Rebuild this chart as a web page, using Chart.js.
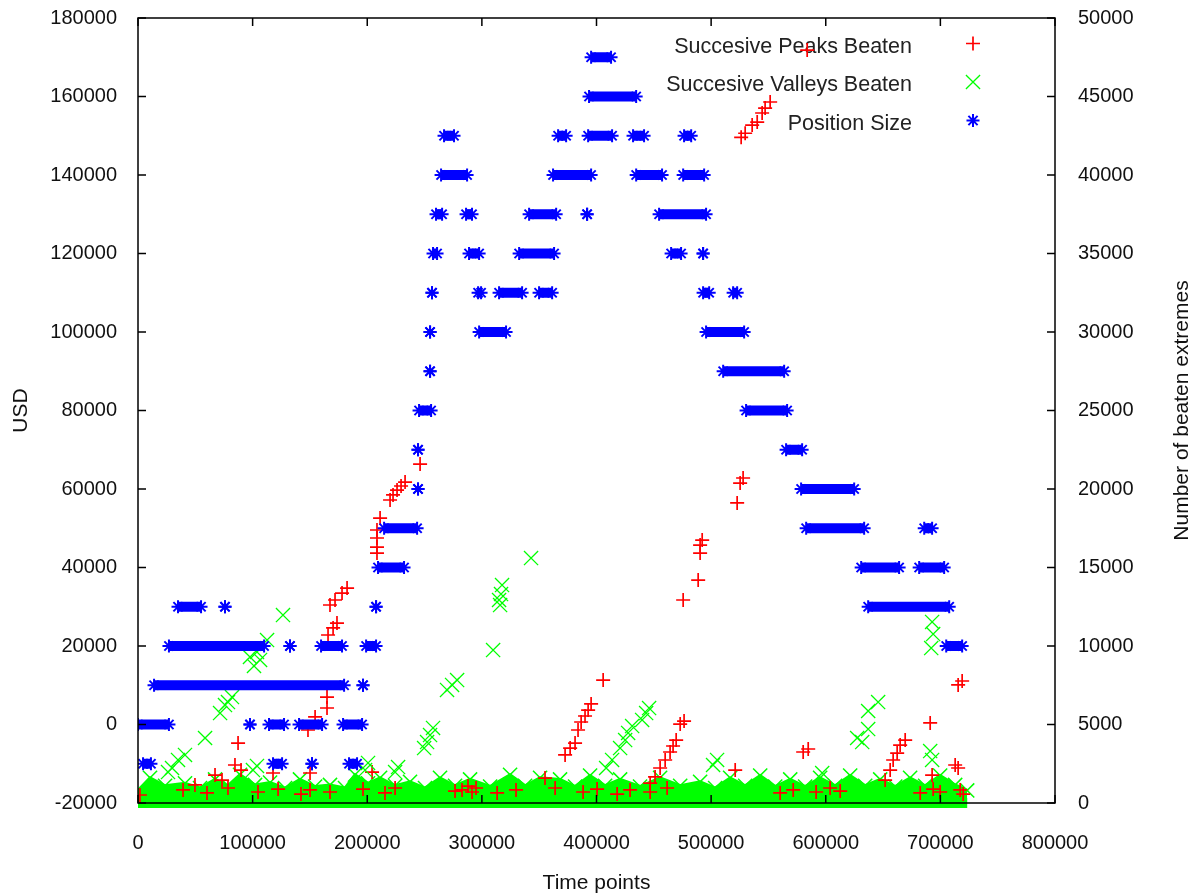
<!DOCTYPE html>
<html>
<head>
<meta charset="utf-8">
<script src="https://cdn.jsdelivr.net/npm/chart.js@4.4.0/dist/chart.umd.min.js"></script>
<style>
  html, body { margin: 0; padding: 0; background: #fff; }
  #wrap { width: 1201px; height: 896px; }
</style>
</head>
<body>
<div id="wrap"><canvas id="grafico" width="1201" height="896"></canvas></div>
<script>
// ------------------------------------------------------------
// Position size (USD, left axis) — runs of identical values
// ------------------------------------------------------------
const positionStart = [
  4400, 117800, 151800, 184100,
  0, 97700, 114300, 140500, 178900,
  14000, 196300,
  27000, 132600, 159700, 199000, 705100,
  34900, 75900, 207700, 637000,
  209400, 630900, 681500,
  214700, 582900, 685900,
  244300, 578500,
  244300, 565400,
  245200, 530500,
  254800, 510500,
  254800, 297600, 495600,
  256500, 296700, 315000, 349900, 493000, 519200,
  257400, 288800, 332500, 465100, 493000,
  260000, 286200, 341200, 391800, 454600,
  264400, 362100, 434600, 475600,
  267000, 366500, 392700, 431900, 476400,
  393500,
  395300,
];
const positionEnd = [
  11300, 125700, 151800, 191100,
  27000, 97700, 127400, 160600, 195500,
  179800, 196300,
  110000, 132600, 178000, 207700, 719000,
  55000, 75900, 207700, 707700,
  232100, 664000, 703300,
  243500, 633500, 692800,
  244300, 624800,
  244300, 579400,
  255700, 566300,
  254800, 563700,
  254800, 321100, 528800,
  256500, 299300, 335100, 361300, 498300, 522700,
  260900, 297600, 363000, 473800, 493000,
  265300, 291400, 364800, 391800, 495600,
  287100, 395300, 457200, 493900,
  275700, 373500, 413600, 441500, 482600,
  434600,
  412700,
];
const positionUsd = [
  -10000, -10000, -10000, -10000,
  0, 0, 0, 0, 0,
  10000, 10000,
  20000, 20000, 20000, 20000, 20000,
  30000, 30000, 30000, 30000,
  40000, 40000, 40000,
  50000, 50000, 50000,
  60000, 60000,
  70000, 70000,
  80000, 80000,
  90000, 90000,
  100000, 100000, 100000,
  110000, 110000, 110000, 110000, 110000, 110000,
  120000, 120000, 120000, 120000, 120000,
  130000, 130000, 130000, 130000, 130000,
  140000, 140000, 140000, 140000,
  150000, 150000, 150000, 150000, 150000,
  160000,
  170000,
];

// ------------------------------------------------------------
// Successive peaks beaten (right axis)
// ------------------------------------------------------------
const peaksT = [
  87300, 84600, 89900, 148300, 154500, 164900, 164900, 165800, 170200, 173600,
  167500, 171900, 178000, 182400, 208500, 208500, 208500, 208500, 211200, 219900,
  222500, 226000, 229500, 233000, 246100, 204200, 372600, 377000, 381300, 383900,
  386600, 390000, 392700, 395300, 405800, 446800, 451100, 455500, 459900, 464200,
  466800, 469500, 473000, 476400, 475600, 488700, 490400, 490400, 492200, 522700,
  525300, 527900, 526200, 529700, 535800, 540200, 544500, 547100, 551500, 583800,
  580300, 584700, 521000, 651800, 656200, 658800, 662300, 664900, 669300, 691100,
  692800, 715500, 719000, 712900, 715500, 355100, 67200, 73300, 49700, 150100,
  117800,
  1700, 39300, 60200, 78500, 104700, 122200, 142200, 150100, 167500, 196300,
  215500, 224300, 276600, 282700, 287900, 291400, 294900, 313300, 329800, 363900,
  388300, 400500, 418000, 429300, 446800, 461600, 560200, 571600, 591600, 603800,
  612600, 682400, 693700, 699800, 717300, 719900,
];
const peaksN = [
  3820, 2420, 2100, 4650, 5480, 6050, 6750, 10700, 11150, 11460,
  12610, 12930, 13370, 13690, 15920, 16300, 16880, 17390, 18150, 19300,
  19620, 19930, 20190, 20440, 21590, 1970, 3060, 3500, 3820, 4650,
  5160, 5540, 5920, 6310, 7830, 1270, 1660, 2230, 2740, 3250,
  3630, 4010, 5030, 5220, 12930, 14200, 15920, 16430, 16750, 19110,
  20380, 20700, 42400, 42660, 43180, 43370, 43950, 44260, 44650, 47960,
  3250, 3440, 2100, 1460, 2100, 2740, 3180, 3690, 4010, 5100,
  1780, 7520, 7770, 2420, 2230, 1590, 1780, 1460, 1150, 1910,
  1910,
  510, 830, 640, 955, 700, 890, 570, 830, 700, 890,
  640, 955, 760, 830, 1080, 700, 955, 640, 830, 955,
  700, 890, 570, 830, 700, 955, 640, 830, 700, 955,
  760, 640, 890, 700, 830, 570,
];

// ------------------------------------------------------------
// Successive valleys beaten (right axis)
// ------------------------------------------------------------
const valleysT = [
  126500, 112600, 103800, 106500, 101200, 97700, 82000, 78500, 75900, 71600,
  58500, 41000, 34900, 29700, 26200, 100300, 103800, 200700, 198100, 224300,
  226900, 249600, 252200, 254800, 257400, 269600, 274000, 278400, 309800, 315000,
  316700, 317600, 315900, 342900, 408400, 413600, 420600, 425000, 427600, 431100,
  439800, 443300, 445900, 501700, 505200, 596900, 627400, 631800, 637000, 637000,
  645700, 691100, 692800, 692800, 693700, 692000,
];
const valleysN = [
  11970, 10380, 9620, 9110, 8730, 9300, 6750, 6430, 6240, 5730,
  4140, 3060, 2740, 2230, 1970, 2100, 2360, 2550, 2100, 1970,
  2290, 3500, 3880, 4330, 4780, 7200, 7520, 7830, 9740, 12930,
  13310, 13880, 12610, 15600, 2230, 2740, 3500, 4010, 4460, 4900,
  5290, 5730, 6050, 2420, 2740, 1910, 4140, 3880, 4710, 5860,
  6430, 3310, 2740, 11530, 10760, 9870,
];

// dense mass of valley points hugging the bottom of the plot
const valleyFloorT = [
  0, 10500, 23600, 41000, 54100, 67200, 78500, 89000, 102100, 115200,
  128300, 141300, 154500, 167500, 180600, 189300, 200700, 211200, 224300, 237300,
  250400, 263500, 276600, 289700, 307200, 324600, 337700, 350800, 368200, 381300,
  394400, 407500, 420600, 438000, 455500, 473000, 490400, 503500, 516600, 529700,
  542800, 555900, 569000, 582000, 595100, 608200, 621300, 634400, 647500, 660600,
  673600, 686700, 699800, 712900, 723400,
];
const valleyFloorN = [
  800, 1600, 1100, 1250, 950, 1500, 1100, 1800, 1150, 1300,
  950, 1500, 1050, 1150, 950, 1800, 1250, 1600, 1100, 1350,
  950, 1600, 1100, 1500, 1050, 1800, 1100, 1600, 1500, 1050,
  1750, 1100, 1500, 1050, 1600, 1100, 1350, 950, 1600, 1100,
  1750, 1050, 1500, 1050, 1600, 1100, 1750, 1100, 1500, 1050,
  1600, 1100, 1750, 1150, 800,
];

const TITLE_X = 'Time points';
const TITLE_Y = 'USD';
const TITLE_Y2 = 'Number of beaten extremes';

const FONTE = '"Liberation Sans", Arial, sans-serif';
const TEXTO = '#111';
const AZUL = '#0000ff';
const VERMELHO = '#ff0000';
const VERDE = '#00ff00';
const TICK = 8;

function pares(ts, vs) {
  return ts.map((t, i) => ({ x: t, y: vs[i] }));
}

function trechos(inicio, fim, valor) {
  const pts = [];
  inicio.forEach((s, i) => {
    pts.push({ x: s, y: valor[i] }, { x: fim[i], y: valor[i] }, { x: fim[i], y: null });
  });
  return pts;
}

// tamanho fixo das caixas dos eixos, sem folga extra dos rótulos
function fixarCaixa(largura, altura) {
  return (s) => {
    if (largura !== null) s.width = largura;
    if (altura !== null) s.height = altura;
    s.paddingTop = 0;
    s.paddingBottom = 0;
    s.paddingLeft = 0;
    s.paddingRight = 0;
  };
}

// moldura e marcas de escala para dentro, como no gnuplot
const molduraPlugin = {
  id: 'moldura',
  beforeDatasetsDraw(chart) {
    const { ctx } = chart;
    ctx.save();
    ctx.font = `21.5px ${FONTE}`;
    ctx.textAlign = 'right';
    ctx.textBaseline = 'middle';
    chart.data.datasets.forEach((d) => {
      if (d.linhaChave === undefined) return;
      const y = 47 + d.linhaChave * 38.5;
      ctx.fillStyle = '#222';
      ctx.fillText(d.label, 912, y);
      ctx.strokeStyle = d.borderColor;
      ctx.lineWidth = d.pointBorderWidth;
      Chart.helpers.drawPoint(ctx, {
        pointStyle: d.pointStyle, radius: d.pointRadius, borderWidth: d.pointBorderWidth, rotation: 0,
      }, 973, y - 3.5);
    });
    ctx.restore();
  },
  afterDatasetsDraw(chart) {
    const { ctx, chartArea: a, scales } = chart;
    ctx.save();
    ctx.strokeStyle = '#000';
    ctx.lineWidth = 1.5;
    ctx.beginPath();
    scales.x.ticks.forEach((t) => {
      const px = scales.x.getPixelForValue(t.value);
      ctx.moveTo(px, a.bottom); ctx.lineTo(px, a.bottom - TICK);
      ctx.moveTo(px, a.top); ctx.lineTo(px, a.top + TICK);
    });
    scales.y.ticks.forEach((t) => {
      const py = scales.y.getPixelForValue(t.value);
      ctx.moveTo(a.left, py); ctx.lineTo(a.left + TICK, py);
    });
    scales.y2.ticks.forEach((t) => {
      const py = scales.y2.getPixelForValue(t.value);
      ctx.moveTo(a.right, py); ctx.lineTo(a.right - TICK, py);
    });
    ctx.stroke();
    ctx.strokeRect(a.left, a.top, a.right - a.left, a.bottom - a.top);
    ctx.restore();
  },
  afterDraw(chart) {
    const { ctx, chartArea: a } = chart;
    ctx.save();
    ctx.font = `21px ${FONTE}`;
    ctx.fillStyle = TEXTO;
    ctx.textAlign = 'center';
    ctx.textBaseline = 'middle';
    ctx.translate(1182, (a.top + a.bottom) / 2);
    ctx.rotate(-Math.PI / 2);
    ctx.fillText(TITLE_Y2, 0, 0);
    ctx.restore();
  },
};

const ticksComuns = { font: { family: FONTE, size: 20 }, color: TEXTO, callback: (v) => String(v) };

new Chart(document.getElementById('grafico'), {
  type: 'scatter',
  data: {
    datasets: [
      {
        label: 'Position Size',
        linhaChave: 2,
        data: trechos(positionStart, positionEnd, positionUsd),
        yAxisID: 'y',
        showLine: true,
        spanGaps: false,
        borderColor: AZUL,
        backgroundColor: AZUL,
        borderWidth: 10,
        borderCapStyle: 'butt',
        pointStyle: 'star',
        pointRadius: 6.5,
        pointBorderWidth: 2,
        order: 0,
      },
      {
        label: 'Succesive Valleys Beaten',
        linhaChave: 1,
        data: pares(valleysT, valleysN),
        yAxisID: 'y2',
        borderColor: VERDE,
        backgroundColor: VERDE,
        pointStyle: 'crossRot',
        pointRadius: 10,
        pointBorderWidth: 1.3,
        order: 1,
      },
      {
        label: 'Succesive Peaks Beaten',
        linhaChave: 0,
        data: pares(peaksT, peaksN),
        yAxisID: 'y2',
        borderColor: VERMELHO,
        backgroundColor: VERMELHO,
        pointStyle: 'cross',
        pointRadius: 7,
        pointBorderWidth: 1.7,
        order: 2,
      },
      {
        label: '',
        data: pares(valleyFloorT, valleyFloorN),
        yAxisID: 'y2',
        showLine: true,
        fill: 'start',
        borderColor: VERDE,
        backgroundColor: VERDE,
        borderWidth: 3,
        pointStyle: 'crossRot',
        pointRadius: 10,
        pointBorderWidth: 1.5,
        order: 3,
      },
      {
        label: '',
        data: [
          { x: valleyFloorT[0], y: 0 },
          { x: valleyFloorT[valleyFloorT.length - 1], y: 0 },
        ],
        yAxisID: 'y2',
        showLine: true,
        borderColor: VERDE,
        borderWidth: 10,
        borderCapStyle: 'butt',
        pointRadius: 0,
        clip: false,
        order: 4,
      },
    ],
  },
  options: {
    responsive: false,
    animation: false,
    devicePixelRatio: 1,
    layout: { padding: { top: 18, left: 0, right: 0, bottom: 0 } },
    plugins: { legend: { display: false }, tooltip: { enabled: false } },
    scales: {
      x: {
        type: 'linear',
        position: 'bottom',
        min: 0,
        max: 800000,
        grid: { display: false, drawTicks: false },
        border: { display: false },
        ticks: { ...ticksComuns, stepSize: 100000, padding: 28, maxRotation: 0 },
        title: { display: true, text: TITLE_X, color: TEXTO, font: { family: FONTE, size: 21 }, padding: { top: 0, bottom: 0 } },
        afterFit: fixarCaixa(null, 93),
      },
      y: {
        type: 'linear',
        position: 'left',
        min: -20000,
        max: 180000,
        grid: { display: false, drawTicks: false },
        border: { display: false },
        ticks: { ...ticksComuns, stepSize: 20000, padding: 21 },
        title: { display: true, text: TITLE_Y, color: TEXTO, font: { family: FONTE, size: 21 }, padding: { top: 9, bottom: 0 } },
        afterFit: fixarCaixa(138, null),
      },
      y2: {
        type: 'linear',
        position: 'right',
        min: 0,
        max: 50000,
        grid: { display: false, drawTicks: false },
        border: { display: false },
        ticks: { ...ticksComuns, stepSize: 5000, padding: 23 },
        afterFit: fixarCaixa(146, null),
      },
    },
  },
  plugins: [molduraPlugin],
});
</script>
</body>
</html>
